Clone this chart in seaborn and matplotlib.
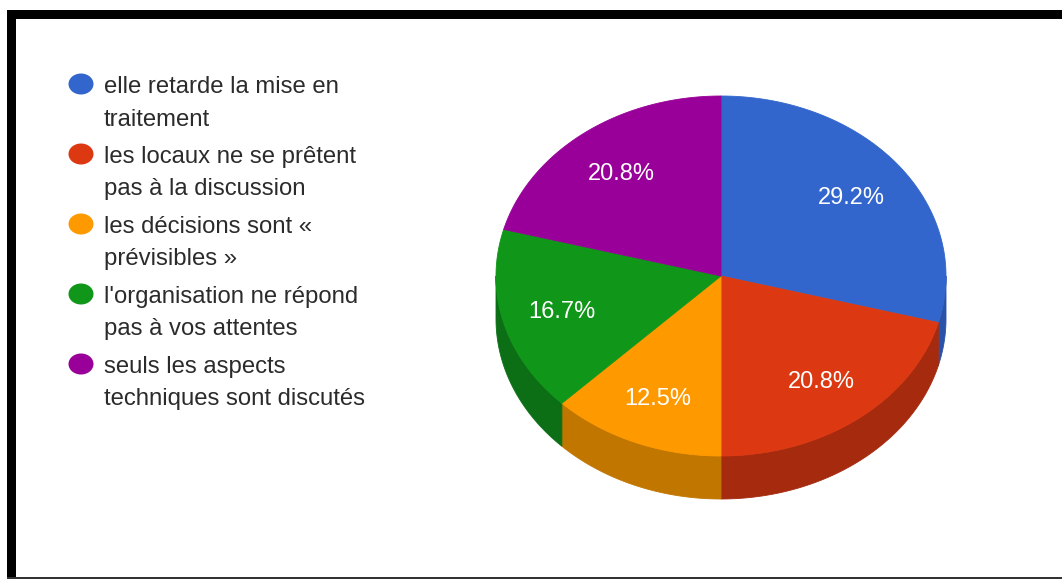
import numpy as np
import matplotlib
matplotlib.use("Agg")
import matplotlib.pyplot as plt
from matplotlib.patches import Polygon, Ellipse, Rectangle
import seaborn as sns

# Survey answers (counts out of 24 respondents)
categories = [
    "elle retarde la mise en\ntraitement",
    "les locaux ne se prêtent\npas à la discussion",
    "les décisions sont «\nprévisibles »",
    "l'organisation ne répond\npas à vos attentes",
    "seuls les aspects\ntechniques sont discutés",
]
counts = [7, 5, 3, 4, 5]
top_colors = ["#3366cc", "#dc3912", "#ff9900", "#109618", "#990099"]
side_colors = ["#2a52a8", "#a52a0e", "#c17600", "#0c6f16", "#730073"]

sns.set_theme(style="white")
plt.rcParams["font.family"] = ["Liberation Sans", "DejaVu Sans"]

W, H = 1062, 579
fig = plt.figure(figsize=(W / 100, H / 100), dpi=100)
ax = fig.add_axes([0, 0, 1, 1])
ax.set_xlim(0, W)
ax.set_ylim(H, 0)
ax.axis("off")

# Tilted pie geometry (pixel units, y grows downward)
cx, cy, rx, ry, depth = 721, 276, 225, 180, 43

values = np.array(counts, dtype=float)
shares = values / values.sum()
bounds = 90 - 360 * np.concatenate([[0], np.cumsum(shares)])  # clockwise from top


def rim(theta_deg):
    t = np.radians(theta_deg)
    return cx + rx * np.cos(t), cy - ry * np.sin(t)


# Visible side walls: the front half of the rim (angles between -180 and 0)
for i in range(len(values)):
    a0, a1 = bounds[i], bounds[i + 1]
    segs = []
    for off in (0, 360):
        s_lo = max(min(a0, a1) + off, -180)
        s_hi = min(max(a0, a1) + off, 0)
        if s_hi > s_lo:
            segs.append((s_lo, s_hi))
    for s_lo, s_hi in segs:
        th = np.linspace(s_hi, s_lo, 80)
        xs, ys = rim(th)
        pts = np.column_stack([np.r_[xs, xs[::-1]], np.r_[ys, ys[::-1] + depth]])
        ax.add_patch(Polygon(pts, closed=True, facecolor=side_colors[i],
                             edgecolor=side_colors[i], lw=0.6, zorder=2))

# Top faces
for i in range(len(values)):
    th = np.linspace(bounds[i], bounds[i + 1], 200)
    xs, ys = rim(th)
    pts = np.column_stack([np.r_[cx, xs], np.r_[cy, ys]])
    ax.add_patch(Polygon(pts, closed=True, facecolor=top_colors[i],
                         edgecolor=top_colors[i], lw=0.6, zorder=3))

# Percentage labels inside the slices
for i in range(len(values)):
    mid = (bounds[i] + bounds[i + 1]) / 2
    t = np.radians(mid)
    lx, ly = cx + 0.73 * rx * np.cos(t), cy - 0.73 * ry * np.sin(t) + 2
    ax.text(lx, ly, f"{shares[i] * 100:.1f}%", color="white", fontsize=17,
            ha="center", va="center", zorder=5)

# Legend on the left
x_marker, x_text = 81, 104
marker0, item_gap, line_gap = 84, 70, 32.5
for i, label in enumerate(categories):
    my = marker0 + i * item_gap
    ax.add_patch(Ellipse((x_marker, my), 25, 21, facecolor=top_colors[i],
                         edgecolor="none", zorder=4))
    for j, line in enumerate(label.split("\n")):
        ax.text(x_text, my + 9 + j * line_gap, line, color="#2b2b2b",
                fontsize=17.2, ha="left", va="baseline", zorder=4)

# Black frame around the chart
ax.add_patch(Rectangle((7, 10), W - 7, 9, facecolor="black", edgecolor="none", zorder=6))
ax.add_patch(Rectangle((7, 10), 9, H - 10, facecolor="black", edgecolor="none", zorder=6))
ax.add_patch(Rectangle((7, 576.5), W - 7, 2, facecolor="#333333", edgecolor="none", zorder=6))

fig.savefig("out.png", dpi=100)
